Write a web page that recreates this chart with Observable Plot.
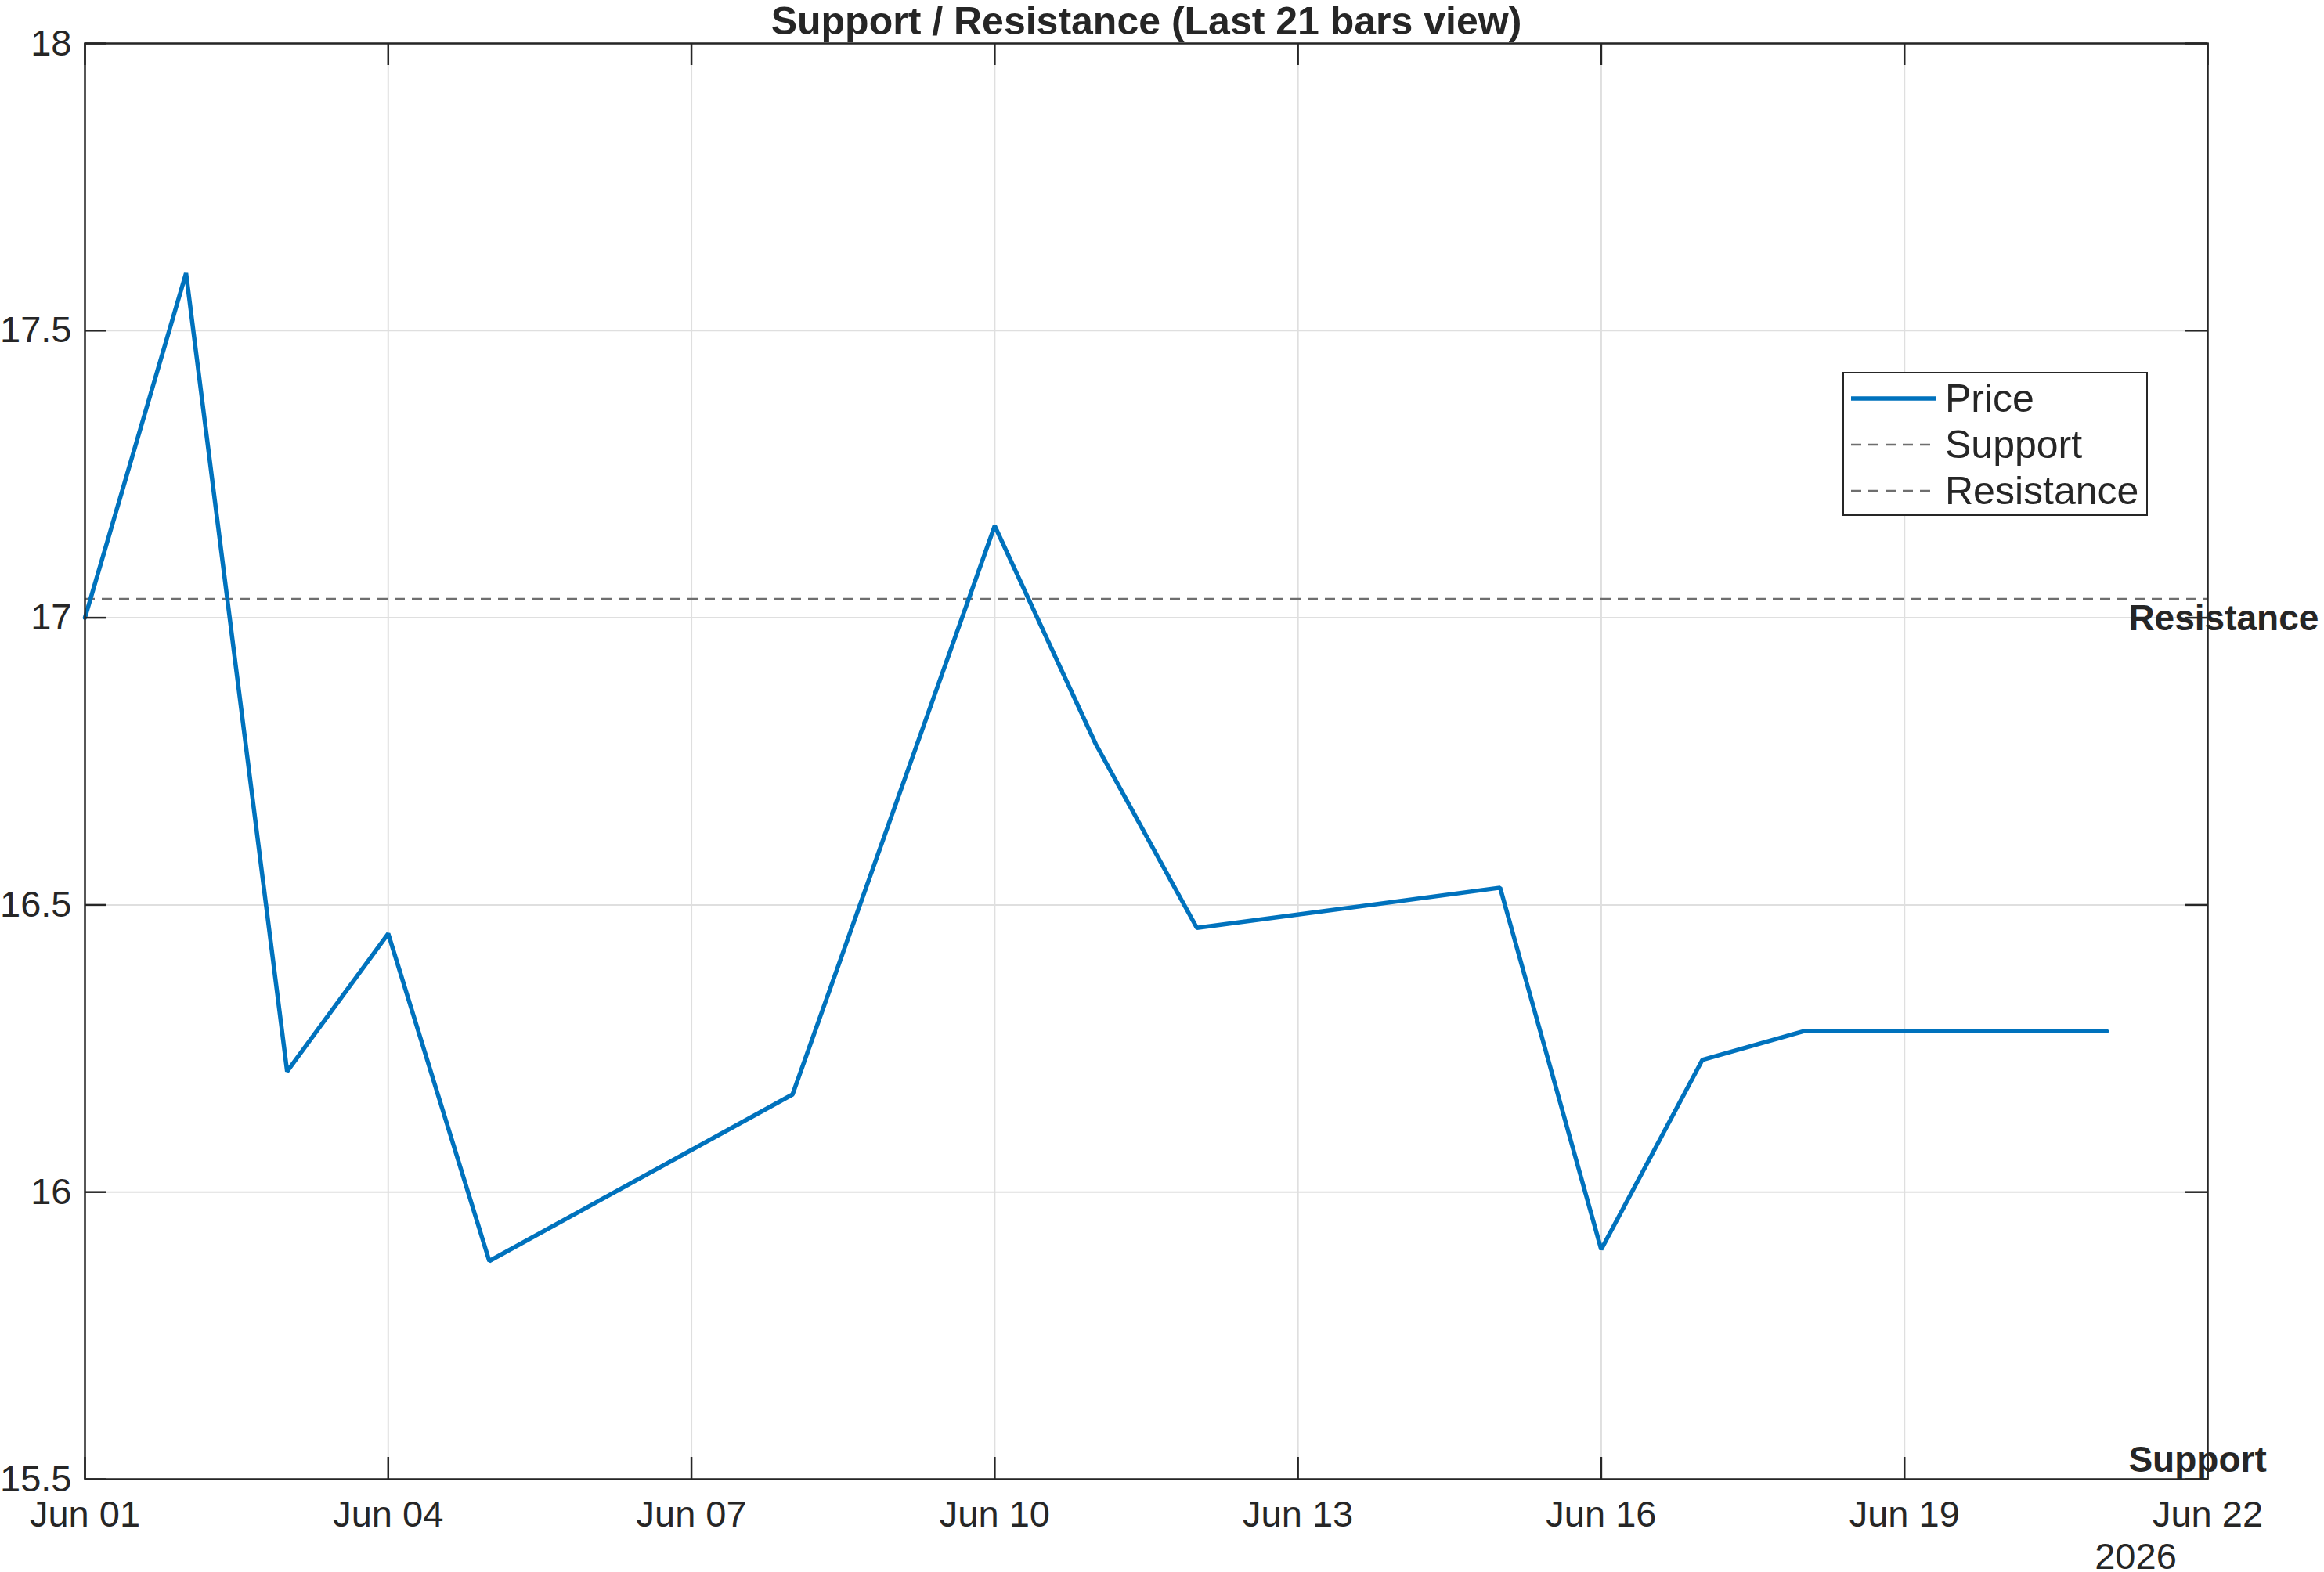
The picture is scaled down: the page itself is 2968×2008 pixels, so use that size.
<!DOCTYPE html>
<html>
<head>
<meta charset="utf-8">
<script src="https://cdn.jsdelivr.net/npm/d3@7"></script>
<script src="https://cdn.jsdelivr.net/npm/@observablehq/plot@0.6"></script>
<style>
  html, body { margin: 0; padding: 0; background: #fff; }
  #wrap { position: relative; width: 2968px; height: 2008px; font-family: "Liberation Sans", Arial, Helvetica, sans-serif; }
  #legend { position: absolute; left: 2353px; top: 475px; width: 386px; height: 180px; border: 2.5px solid #262626; background: #fff; }
  #legend .row { position: absolute; left: 0; height: 60px; width: 100%; }
  #legend svg { position: absolute; left: 9px; top: 0; }
  #legend span { position: absolute; left: 129px; top: 0; line-height: 60px; font-size: 50px; color: #262626; white-space: nowrap; }
</style>
</head>
<body>
<div id="wrap"></div>
<script>
// ---- data ----
const titleText = "Support / Resistance (Last 21 bars view)";
const dates = ["2026-06-01","2026-06-02","2026-06-03","2026-06-04","2026-06-05","2026-06-08","2026-06-10","2026-06-11","2026-06-12","2026-06-15","2026-06-16","2026-06-17","2026-06-18","2026-06-21"];
const prices = [17.00, 17.60, 16.21, 16.45, 15.88, 16.17, 17.16, 16.78, 16.46, 16.53, 15.90, 16.23, 16.28, 16.28];
const resistance = 17.033;
const support = 15.40;
const xTickLabels = ["2026-06-01","2026-06-04","2026-06-07","2026-06-10","2026-06-13","2026-06-16","2026-06-19","2026-06-22"];
const yTicks = [15.5, 16, 16.5, 17, 17.5, 18];
const seriesNames = ["Price", "Support", "Resistance"];

// ---- build ----
const data = dates.map((d, i) => ({date: new Date(d + "T00:00:00Z"), price: prices[i]}));
const xTicks = xTickLabels.map(d => new Date(d + "T00:00:00Z"));
const xDomain = [xTicks[0], xTicks[xTicks.length - 1]];
const yDomain = [yTicks[0], yTicks[yTicks.length - 1]];
const W = 2968, H = 2008, mL = 108, mR = 149, mT = 55, mB = 119;
const fw = W - mL - mR, fh = H - mT - mB;
const ink = "#262626";
const blue = "#0072BD";
const dashGray = "#6e6e6e";
const tickLen = 28;
const lastDate = data[data.length - 1].date;

const chart = Plot.plot({
  width: W, height: H,
  marginLeft: mL, marginRight: mR, marginTop: mT, marginBottom: mB,
  x: {type: "utc", domain: xDomain},
  y: {domain: yDomain},
  style: {fontFamily: "'Liberation Sans', Arial, Helvetica, sans-serif", fontSize: "46px", color: ink, background: "#fff", overflow: "visible"},
  marks: [
    Plot.gridX(xTicks, {stroke: "#dfdfdf", strokeOpacity: 1, strokeWidth: 2}),
    Plot.gridY(yTicks, {stroke: "#dfdfdf", strokeOpacity: 1, strokeWidth: 2}),
    Plot.ruleY([support], {stroke: dashGray, strokeWidth: 2.5, strokeDasharray: "13,9", clip: true}),
    Plot.ruleY([resistance], {stroke: dashGray, strokeWidth: 2.5, strokeDasharray: "13,9", clip: true}),
    Plot.line(data, {x: "date", y: "price", stroke: blue, strokeWidth: 5.5, strokeLinejoin: "miter"}),
    Plot.text(["Resistance"], {x: () => lastDate, y: () => resistance, text: d => d, textAnchor: "start", lineAnchor: "top", dx: 28, dy: 7, fontWeight: "bold", fontSize: 46, fill: ink}),
    Plot.text(["Support"], {x: () => lastDate, y: () => Math.max(support, yDomain[0]), text: d => d, textAnchor: "start", lineAnchor: "bottom", dx: 28, dy: -10, fontWeight: "bold", fontSize: 46, fill: ink}),
    Plot.frame({stroke: ink, strokeWidth: 2.5}),
    Plot.tickX(xTicks, {x: d => d, insetTop: fh - tickLen, stroke: ink, strokeWidth: 2.5}),
    Plot.tickX(xTicks, {x: d => d, insetBottom: fh - tickLen, stroke: ink, strokeWidth: 2.5}),
    Plot.tickY(yTicks, {y: d => d, insetRight: fw - tickLen, stroke: ink, strokeWidth: 2.5}),
    Plot.tickY(yTicks, {y: d => d, insetLeft: fw - tickLen, stroke: ink, strokeWidth: 2.5}),
    Plot.axisX(xTicks, {tickSize: 0, tickPadding: 27, tickFormat: d3.utcFormat("%b %d"), fontSize: 47, label: null, fill: ink}),
    Plot.axisY(yTicks, {tickSize: 0, tickPadding: 17, tickFormat: d => String(d), fontSize: 47, label: null, fill: ink}),
    Plot.text([xTicks[xTicks.length - 1]], {x: d => d, frameAnchor: "bottom", text: d => d3.utcFormat("%Y")(d), lineAnchor: "middle", dy: 99, dx: -92, fontSize: 47, fill: ink}),
    Plot.text([titleText], {frameAnchor: "top", text: d => d, lineAnchor: "bottom", dy: -12, fontWeight: "bold", fontSize: 50, fill: ink})
  ]
});
const wrap = document.getElementById("wrap");
wrap.appendChild(chart);

// legend
const legend = document.createElement("div");
legend.id = "legend";
const styles = [
  {stroke: blue, width: 5.5, dash: null},
  {stroke: dashGray, width: 2.5, dash: "13,9"},
  {stroke: dashGray, width: 2.5, dash: "13,9"}
];
seriesNames.forEach((name, i) => {
  const row = document.createElement("div");
  row.className = "row";
  row.style.top = (2 + i * 59) + "px";
  const s = styles[i];
  row.innerHTML = `<svg width="110" height="60"><line x1="0" x2="108" y1="30" y2="30" stroke="${s.stroke}" stroke-width="${s.width}" ${s.dash ? `stroke-dasharray="${s.dash}"` : ""}/></svg><span>${name}</span>`;
  legend.appendChild(row);
});
wrap.appendChild(legend);
</script>
</body>
</html>
